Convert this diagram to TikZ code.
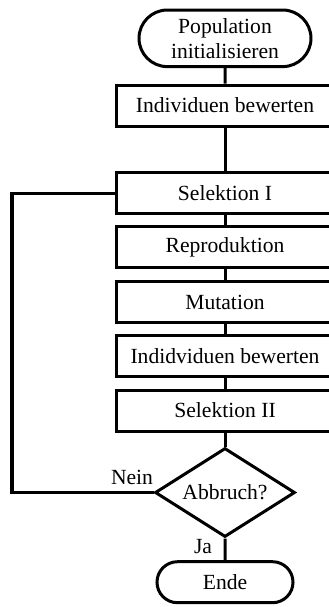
\documentclass[tikz,border=0pt]{standalone}
\usepackage{fontspec}
\setmainfont{Liberation Serif}
\usetikzlibrary{shapes.geometric,shapes.misc}

\begin{document}
\begin{tikzpicture}[x=0.5pt,y=-0.5pt,line width=1.5pt,
    every node/.style={font=\fontsize{10.8}{12.5}\selectfont},
    procbox/.style={draw,rectangle,minimum width=109pt,minimum height=20.5pt,inner sep=0pt},
    termbox/.style={draw,rounded rectangle,inner sep=0pt},
    decbox/.style={draw,diamond,inner sep=0pt,aspect=1.57,minimum width=70pt,minimum height=44.5pt}]
    \useasboundingbox (0,0) rectangle (328,607);

    \coordinate (back) at (12,492.5);

    \node [termbox,minimum width=86pt,minimum height=28.3pt,align=center] (start) at (225,38.3) {Population\\initialisieren};
    \node [procbox] (eval1) at (225,105.5) {Individuen bewerten};
    \node [procbox] (sel1) at (225,193) {Selektion I};
    \node [procbox] (repro) at (225,247) {Reproduktion};
    \node [procbox] (mut) at (225,302) {Mutation};
    \node [procbox] (eval2) at (225,356) {Indidviduen bewerten};
    \node [procbox] (sel2) at (225,410.5) {Selektion II};
    \node [decbox] (stop) at (225,492.5) {Abbruch?};
    \node [termbox,minimum width=68pt,minimum height=20.5pt] (ende) at (225,582.2) {Ende};

    \draw (start) -- (eval1);
    \draw (eval1) -- (sel1);
    \draw (sel1) -- (repro);
    \draw (repro) -- (mut);
    \draw (mut) -- (eval2);
    \draw (eval2) -- (sel2);
    \draw (sel2) -- (stop);
    \draw (stop) -- (ende);
    \draw (stop.west) -- (back) |- (sel1.west);

    \node (nein) at (132,477) {Nein};
    \node (ja) at (203,547) {Ja};
\end{tikzpicture}
\end{document}
